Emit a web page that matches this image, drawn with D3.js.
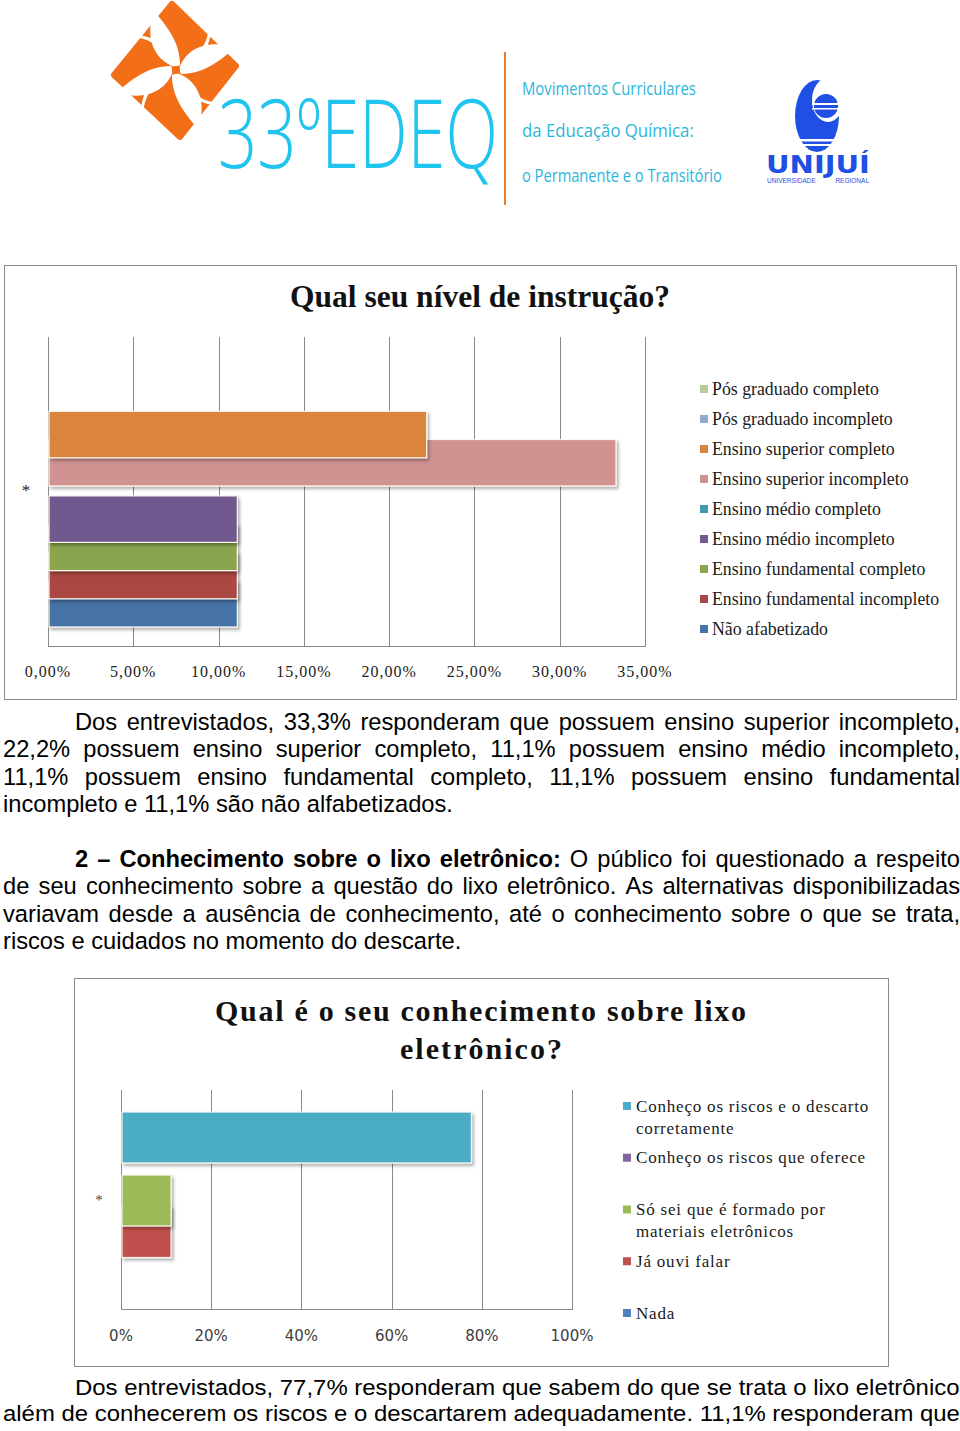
<!DOCTYPE html>
<html><head><meta charset="utf-8">
<script src="https://cdn.jsdelivr.net/npm/d3@7"></script>
<style>body{margin:0;background:#fff}svg{display:block}</style>
</head><body>
<script>
// ---------------- DATA ----------------
const chart1Title = "Qual seu nível de instrução?";
const chart1Category = ["*"];
const chart1Series = ["Não afabetizado","Ensino fundamental incompleto","Ensino fundamental completo","Ensino médio incompleto","Ensino médio completo","Ensino superior incompleto","Ensino superior  completo","Pós graduado incompleto","Pós graduado completo"];
const chart1Values = [11.1, 11.1, 11.1, 11.1, 0, 33.3, 22.2, 0, 0];
const chart1Colors = ["#4572a7","#aa4643","#89a54e","#71588f","#4198af","#d19392","#db843d","#93a9cf","#b9cd96"];
const chart1Ticks = [0, 5, 10, 15, 20, 25, 30, 35];
const chart1TickLabels = ["0,00%","5,00%","10,00%","15,00%","20,00%","25,00%","30,00%","35,00%"];

const chart2TitleLines = ["Qual é o seu conhecimento sobre lixo","eletrônico?"];
const chart2Category = ["*"];
const chart2Series = ["Nada","Já ouvi falar","Só sei que é formado por materiais eletrônicos","Conheço os riscos que oferece","Conheço os riscos e o descarto corretamente"];
const chart2LegendLines = [["Nada"],["Já ouvi falar"],["Só sei que é formado por","materiais eletrônicos"],["Conheço os riscos que oferece"],["Conheço os riscos e o descarto","corretamente"]];
const chart2Values = [0, 11.1, 11.1, 0, 77.7];
const chart2Colors = ["#4f81bd","#c0504d","#9bbb59","#8064a2","#4bacc6"];
const chart2Ticks = [0, 20, 40, 60, 80, 100];
const chart2TickLabels = ["0%","20%","40%","60%","80%","100%"];

// ---------------- SETUP ----------------
const W = 960, H = 1431;
const svg = d3.select("body").append("svg").attr("width", W).attr("height", H);
svg.append("rect").attr("width", W).attr("height", H).attr("fill", "#fff");
const defs = svg.append("defs");
const f = defs.append("filter").attr("id","sh").attr("x","-10%").attr("y","-20%").attr("width","130%").attr("height","160%");
f.append("feDropShadow").attr("dx",2).attr("dy",2.5).attr("stdDeviation",1.8).attr("flood-color","#000").attr("flood-opacity",0.3);

const SERIF = "'Liberation Serif','Times New Roman',serif";
const SANS = "'Liberation Sans',Arial,sans-serif";

function fitText(parent, t, x, y, w, attrs){
  const g = parent.append("g");
  const el = g.append("text").text(t);
  Object.entries(attrs).forEach(([k,v])=>el.attr(k,v));
  const nat = el.node().getComputedTextLength();
  g.attr("transform",`translate(${x},${y}) scale(${w/nat},1)`);
  return el;
}

// ---------------- HEADER ----------------
const hdr = svg.append("g");
hdr.append("path").attr("d","M172,4 L236,66 L180,137 L114,75 Z")
  .attr("fill","#f26f17").attr("stroke","#f26f17").attr("stroke-width",6).attr("stroke-linejoin","round");
const pw = hdr.append("g").attr("transform","translate(176,70)");
[0,90,180,270].forEach(a=>{
  pw.append("path").attr("transform",`rotate(${a-12})`)
    .attr("d","M0,-3 C-20,-14 -24,-40 -9,-62 C-1,-46 10,-28 5,-4 Z").attr("fill","#fff");
  pw.append("path").attr("transform",`rotate(${a+32})`)
    .attr("d","M3,-7 C11,-22 13,-36 7,-50 L10,-50 C17,-34 15,-20 6,-7 Z").attr("fill","#fff");
});
pw.append("circle").attr("r",4).attr("fill","#f26f17");
fitText(hdr,"33ºEDEQ",218,168,280,{"font-family":"'Open Sans',sans-serif","font-weight":300,"font-size":96,"fill":"#1fc4ef"});
hdr.append("line").attr("x1",505).attr("x2",505).attr("y1",52).attr("y2",205).attr("stroke","#ea7a2c").attr("stroke-width",2);
[["Movimentos Curriculares",95,174],["da Educação Química:",137,172],["o Permanente e o Transitório",182,200]].forEach(([t,y,w])=>{
  fitText(hdr,t,522,y,w,{"font-family":"'Open Sans',sans-serif","font-size":18,"fill":"#2cb6dc"});
});
const lg = hdr.append("g");
const blue = "#1f4fe3";
lg.append("ellipse").attr("cx",817).attr("cy",116).attr("rx",22).attr("ry",36).attr("fill",blue);
lg.append("ellipse").attr("cx",828).attr("cy",100).attr("rx",16).attr("ry",22).attr("fill","#fff");
lg.append("circle").attr("cx",826).attr("cy",106).attr("r",12).attr("fill",blue);
lg.append("rect").attr("x",812).attr("y",103).attr("width",28).attr("height",2).attr("fill","#fff");
lg.append("rect").attr("x",812).attr("y",108).attr("width",28).attr("height",1.5).attr("fill","#fff");
lg.append("rect").attr("x",790).attr("y",139).attr("width",56).attr("height",2.5).attr("fill","#fff");
lg.append("rect").attr("x",790).attr("y",144).attr("width",56).attr("height",2).attr("fill","#fff");
fitText(lg,"UNIJUÍ",766,173,104,{"font-family":"'DejaVu Sans',sans-serif","font-weight":"bold","font-size":24,"fill":blue});
lg.append("text").attr("x",767).attr("y",183).attr("font-family",SANS).attr("font-size",6.5).attr("fill",blue).text("UNIVERSIDADE");
lg.append("text").attr("x",869).attr("y",183).attr("text-anchor","end").attr("font-family",SANS).attr("font-size",6.5).attr("fill",blue).text("REGIONAL");

// ---------------- CHART 1 ----------------
const c1 = svg.append("g");
c1.append("rect").attr("x",4.5).attr("y",265.5).attr("width",952).attr("height",434).attr("fill","#fff").attr("stroke","#8a8a8a");
c1.append("text").attr("x",480).attr("y",307).attr("text-anchor","middle").attr("font-family",SERIF)
  .attr("font-weight","bold").attr("font-size",31.5).attr("fill","#111").text(chart1Title);
const x1 = d3.scaleLinear().domain([0,35]).range([48,645]);
const p1Top = 337, p1Bot = 646;
c1.selectAll("line.g").data(chart1Ticks).join("line")
  .attr("x1",d=>Math.round(x1(d))+0.5).attr("x2",d=>Math.round(x1(d))+0.5).attr("y1",p1Top).attr("y2",p1Bot)
  .attr("stroke","#8a8a8a");
c1.append("line").attr("x1",x1(0)).attr("x2",x1(35)+1).attr("y1",p1Bot+0.5).attr("y2",p1Bot+0.5).attr("stroke","#8a8a8a");
c1.selectAll("text.t").data(chart1Ticks).join("text")
  .attr("x",d=>x1(d)).attr("y",677).attr("text-anchor","middle").attr("font-family",SERIF).attr("font-size",16)
  .attr("letter-spacing",1).attr("fill","#222").text((d,i)=>chart1TickLabels[i]);
const y1b = d3.scaleLinear().domain([0, chart1Series.length-1]).range([627, 627-8*28.2]);
const bh1 = 46.5;
c1.selectAll("rect.b").data(chart1Values.map((v,i)=>({v,i}))).join("rect")
  .filter(d=>d.v>0)
  .attr("x",x1(0)+1).attr("y",d=>y1b(d.i)-bh1).attr("width",d=>x1(d.v)-x1(0)-1).attr("height",bh1)
  .attr("fill",d=>chart1Colors[d.i]).attr("stroke","#fdf8ee").attr("stroke-width",1.2).attr("filter","url(#sh)");
c1.append("text").attr("x",26).attr("y",496).attr("text-anchor","middle").attr("font-family",SERIF)
  .attr("font-size",17).attr("fill","#222").text(chart1Category[0]);
const leg1 = chart1Series.map((s,i)=>({s,i})).reverse();
const ly1 = d3.scaleLinear().domain([0,8]).range([389,629]);
leg1.forEach((d,k)=>{
  c1.append("rect").attr("x",700).attr("y",ly1(k)-4).attr("width",8).attr("height",8).attr("fill",chart1Colors[d.i]);
  c1.append("text").attr("x",712).attr("y",ly1(k)).attr("dy","0.33em").attr("font-family",SERIF).attr("font-size",17.8)
    .attr("fill","#1a1a1a").text(d.s);
});

// ---------------- CHART 2 ----------------
const c2 = svg.append("g");
c2.append("rect").attr("x",74.5).attr("y",978.5).attr("width",814).attr("height",388).attr("fill","#fff").attr("stroke","#8a8a8a");
c2.append("text").attr("x",480.5).attr("y",1021).attr("text-anchor","middle").attr("font-family",SERIF).attr("font-weight","bold")
  .attr("font-size",30).attr("fill","#111").attr("textLength",531).attr("lengthAdjust","spacing").text(chart2TitleLines[0]);
c2.append("text").attr("x",481).attr("y",1059).attr("text-anchor","middle").attr("font-family",SERIF).attr("font-weight","bold")
  .attr("font-size",30).attr("fill","#111").attr("textLength",162).attr("lengthAdjust","spacing").text(chart2TitleLines[1]);
const x2 = d3.scaleLinear().domain([0,100]).range([121,572]);
const p2Top = 1090, p2Bot = 1309;
c2.selectAll("line.g").data(chart2Ticks).join("line")
  .attr("x1",d=>Math.round(x2(d))+0.5).attr("x2",d=>Math.round(x2(d))+0.5).attr("y1",p2Top).attr("y2",p2Bot)
  .attr("stroke","#8a8a8a");
c2.append("line").attr("x1",x2(0)).attr("x2",x2(100)+1).attr("y1",p2Bot+0.5).attr("y2",p2Bot+0.5).attr("stroke","#8a8a8a");
c2.selectAll("text.t").data(chart2Ticks).join("text")
  .attr("x",d=>x2(d)).attr("y",1341).attr("text-anchor","middle").attr("font-family","'DejaVu Sans',sans-serif")
  .attr("font-size",15).attr("fill","#404040").text((d,i)=>chart2TickLabels[i]);
const y2b = d3.scaleLinear().domain([0, chart2Series.length-1]).range([1289, 1289-4*31.5]);
const bh2 = 51;
c2.selectAll("rect.b").data(chart2Values.map((v,i)=>({v,i}))).join("rect")
  .filter(d=>d.v>0)
  .attr("x",x2(0)+1).attr("y",d=>y2b(d.i)-bh2).attr("width",d=>x2(d.v)-x2(0)-1).attr("height",bh2)
  .attr("fill",d=>chart2Colors[d.i]).attr("stroke","#fdf8ee").attr("stroke-width",1.2).attr("filter","url(#sh)");
c2.append("text").attr("x",99).attr("y",1205).attr("text-anchor","middle").attr("font-family",SERIF)
  .attr("font-size",15).attr("fill","#444").text(chart2Category[0]);
const ly2 = d3.scaleLinear().domain([0,4]).range([1106,1313]);
chart2LegendLines.map((l,i)=>({l,i})).reverse().forEach((d,k)=>{
  c2.append("rect").attr("x",623).attr("y",ly2(k)-4).attr("width",8).attr("height",8).attr("fill",chart2Colors[d.i]);
  d.l.forEach((t,j)=>{
    c2.append("text").attr("x",636).attr("y",ly2(k)+j*22).attr("dy","0.33em").attr("font-family",SERIF).attr("font-size",17)
      .attr("letter-spacing",0.8).attr("fill","#1a1a1a").text(t);
  });
});

// ---------------- BODY TEXT ----------------
const FS = 23.7;
const meas = svg.append("text").attr("font-family",SANS).attr("font-size",FS).attr("visibility","hidden");
function wlen(t,bold){ meas.attr("font-weight",bold?"bold":"normal").text(t); return meas.node().getComputedTextLength(); }
const SPACE = wlen("a a",false) - wlen("aa",false);
function drawLine(segs, x0, x1r, y, justify){
  const words = [];
  segs.forEach(([t,b])=>t.split(" ").filter(w=>w.length).forEach(w=>words.push({w,b})));
  words.forEach(d=>d.len=wlen(d.w,d.b));
  const total = d3.sum(words,d=>d.len);
  const gap = justify ? (x1r-x0-total)/(words.length-1) : SPACE;
  let x = x0;
  words.forEach(d=>{
    svg.append("text").attr("x",x).attr("y",y).attr("font-family",SANS).attr("font-size",FS)
      .attr("font-weight",d.b?"bold":"normal").attr("fill","#000").text(d.w);
    x += d.len + gap;
  });
}
const L = 3, R = 960, IND = 75;
drawLine([["Dos entrevistados, 33,3% responderam que possuem ensino superior incompleto,",false]], IND, R, 730, true);
drawLine([["22,2% possuem ensino superior completo, 11,1% possuem ensino médio incompleto,",false]], L, R, 757.3, true);
drawLine([["11,1% possuem ensino fundamental completo, 11,1% possuem ensino fundamental",false]], L, R, 784.6, true);
drawLine([["incompleto e 11,1% são não alfabetizados.",false]], L, R, 811.9, false);
drawLine([["2 – Conhecimento sobre o lixo eletrônico:",true],["O público foi questionado a respeito",false]], IND, R, 867, true);
drawLine([["de seu conhecimento sobre a questão do lixo eletrônico. As alternativas disponibilizadas",false]], L, R, 894.3, true);
drawLine([["variavam desde a ausência de conhecimento, até o conhecimento sobre o que se trata,",false]], L, R, 921.6, true);
drawLine([["riscos e cuidados no momento do descarte.",false]], L, R, 948.9, false);
meas.remove();
[["Dos entrevistados, 77,7% responderam que sabem do que se trata o lixo eletrônico", IND, 1395],
 ["além de conhecerem os riscos e o descartarem adequadamente. 11,1% responderam que", L, 1421]].forEach(([t,x,y])=>{
  fitText(svg,t,x,y,R-x,{"font-family":SANS,"font-size":22.5,"fill":"#000"});
});
</script>
</body></html>
